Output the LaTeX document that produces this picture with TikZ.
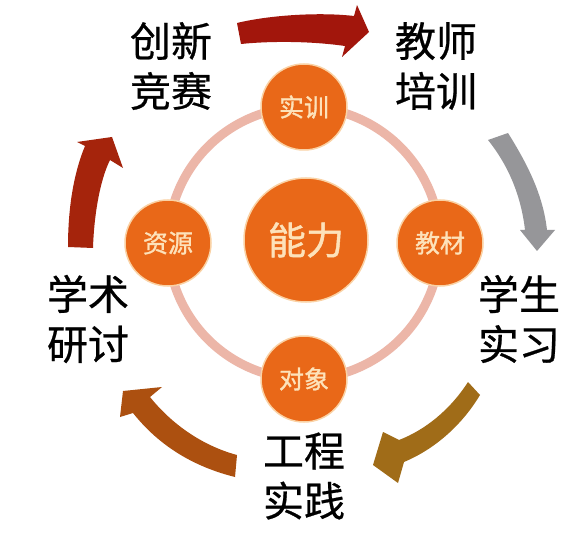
\documentclass[tikz,border=0pt]{standalone}
\usepackage{fontspec}
\setmainfont{Noto Sans CJK SC}
\newfontfamily\boldcjk{Noto Sans CJK SC}[FakeBold=1.2]
\newfontfamily\medcjk{Noto Sans CJK SC}[FakeBold=0.6]
\definecolor{nodeorange}{RGB}{233,104,24}
\definecolor{nodetext}{RGB}{253,226,186}
\definecolor{noderim}{RGB}{250,210,165}
\definecolor{ringpink}{RGB}{236,182,168}
\definecolor{arrtop}{RGB}{162,22,12}
\definecolor{arrgray}{RGB}{150,150,153}
\definecolor{arrolive}{RGB}{160,108,24}
\definecolor{arrbrown}{RGB}{172,80,16}
\definecolor{arrleft}{RGB}{165,36,12}
\tikzset{
  ballnode/.style={circle, fill=nodeorange, draw=noderim, line width=1.5pt,
    minimum size=86pt, inner sep=0pt, text=nodetext, font=\boldcjk\fontsize{25}{25}\selectfont},
  corenode/.style={ballnode, minimum size=124pt, font=\boldcjk\fontsize{38}{38}\selectfont},
  labelnode/.style={align=center, inner sep=0pt, text=black, font=\medcjk\fontsize{41}{50}\selectfont},
  bigarrow/.style={line join=miter}
}
\begin{document}
\begin{tikzpicture}[x=1pt,y=-1pt]
\fill[white] (0,0) rectangle (567,537);
\useasboundingbox (0,0) rectangle (567,537);
% ring
\coordinate (ringc) at (304,243);
\draw[ringpink, line width=9pt] (ringc) circle [radius=136];
% nodes
\node[ballnode] (shixun) at (304,107) {实训};
\node[ballnode] (ziyuan) at (168,243) {资源};
\node[ballnode] (jiaocai) at (440,243) {教材};
\node[ballnode] (duixiang) at (304,379) {对象};
\node[corenode] (nengli) at (306,240) {能力};
% labels
\node[labelnode] (cx) at (171,66) {创新\\竞赛};
\node[labelnode] (js) at (436,66) {教师\\培训};
\node[labelnode] (xs) at (88,319) {学术\\研讨};
\node[labelnode] (sx) at (519,319) {学生\\实习};
\node[labelnode] (gc) at (304,476) {工程\\实践};
% arrows
\fill[arrtop, bigarrow] (237,23) .. controls (270,15) and (320,12) .. (354,16)
  -- (357,5) -- (369,32) -- (342,57) -- (345,46)
  .. controls (310,41) and (270,41) .. (241,44) -- cycle;
\fill[arrgray, bigarrow] (488,140) -- (508,133) .. controls (528,165) and (543,195) .. (547,230)
  -- (555,230) -- (537,251) -- (520,230) -- (525,230)
  .. controls (521,195) and (508,165) .. cycle;
\fill[arrolive, bigarrow] (468,382) -- (480,395) .. controls (462,425) and (435,449) .. (404,462)
  -- (398,483) -- (373,465) -- (383,432) -- (399,440)
  .. controls (425,430) and (450,410) .. cycle;
\fill[arrbrown, bigarrow] (237,455) -- (235,477) .. controls (195,467) and (160,447) .. (133,413)
  -- (120,417) -- (123,391) -- (162,387) -- (150,397)
  .. controls (170,422) and (200,445) .. cycle;
\fill[arrleft, bigarrow] (68,247) .. controls (68,210) and (73,175) .. (85,146)
  -- (77,142) -- (112,137) -- (123,168) -- (110,160)
  .. controls (100,180) and (94,215) .. (93,248) -- cycle;
\end{tikzpicture}
\end{document}
